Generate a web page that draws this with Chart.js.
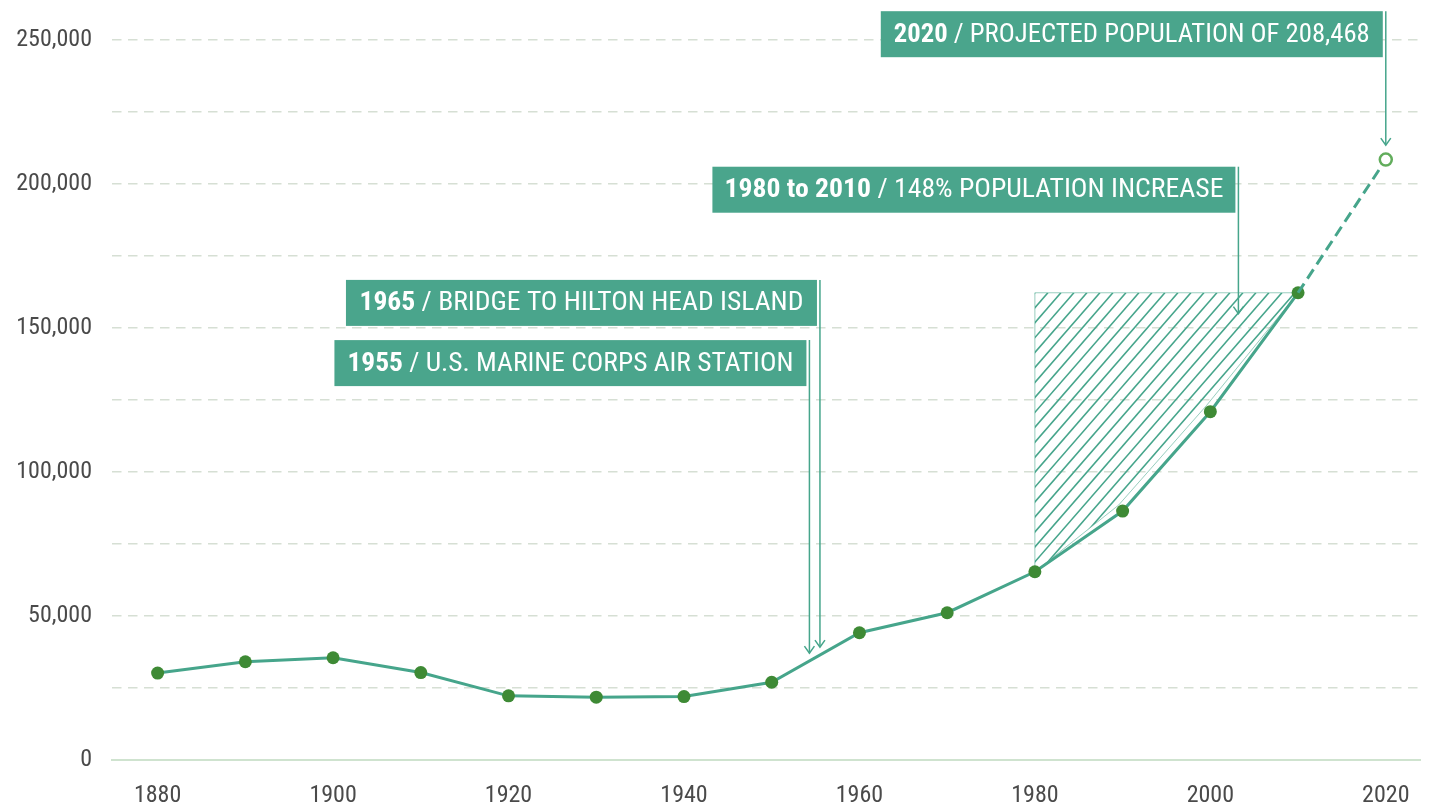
<!DOCTYPE html>
<html><head><meta charset="utf-8">
<script src="https://cdn.jsdelivr.net/npm/chart.js@4.4.1/dist/chart.umd.min.js"></script>
<style>html,body{margin:0;padding:0;background:#fff;overflow:hidden}#wrap{width:1433px;height:807px;position:relative}</style>
</head><body><div id="wrap"><canvas id="c" width="1433" height="807"></canvas></div>
<script>
// ---- data ----
const years = [1880,1890,1900,1910,1920,1930,1940,1950,1960,1970,1980,1990,2000,2010];
const population = [30176,34119,35495,30355,22269,21815,22037,26993,44187,51136,65364,86425,120937,162233];
const projectedYears = [2010,2020];
const projectedPopulation = [162233,208468];
const xTickValues = [1880,1900,1920,1940,1960,1980,2000,2020];
const yTickValues = [0,25000,50000,75000,100000,125000,150000,175000,200000,225000,250000];
const increaseRange = [1980,2010];
const noteBold = ['2020','1980 to 2010','1965','1955'];
const noteText = ['PROJECTED POPULATION OF 208,468','148% POPULATION INCREASE','BRIDGE TO HILTON HEAD ISLAND','U.S. MARINE CORPS AIR STATION'];

// ---- layout of the notes (leader x in years, top / tip in axis values) ----
const noteLayout = [
  {lead:2020,   top:260000, tip:213500, w:502, tw:476},
  {lead:2003.2, top:206000, tip:155000, w:523, tw:499},
  {lead:1955.5, top:166700, tip:39200,  w:471, tw:444},
  {lead:1954.3, top:145800, tip:37100,  w:472, tw:446}
];

const FONT = "'Roboto Condensed','DejaVu Sans Condensed',Roboto,sans-serif";
const TEAL = '#46a58b';
const BOX = '#4aa58c';

const notesPlugin = {
  id:'notes',
  beforeDatasetsDraw(chart){
    const ctx = chart.ctx, xs = chart.scales.x, ys = chart.scales.y;
    const i0 = years.indexOf(increaseRange[0]), i1 = years.indexOf(increaseRange[1]);
    const x0 = xs.getPixelForValue(years[i0]), y0 = ys.getPixelForValue(population[i0]);
    const x1 = xs.getPixelForValue(years[i1]), y1 = ys.getPixelForValue(population[i1]);
    ctx.save();
    ctx.beginPath();
    ctx.moveTo(x0,y0); ctx.lineTo(x0,y1); ctx.lineTo(x1,y1);
    for (let i=i1-1;i>i0;i--) ctx.lineTo(xs.getPixelForValue(years[i])-4, ys.getPixelForValue(population[i])-6);
    ctx.closePath();
    ctx.strokeStyle='rgba(70,165,139,0.55)'; ctx.lineWidth=1; ctx.stroke();
    ctx.clip();
    ctx.strokeStyle=TEAL; ctx.lineWidth=1.6;
    const h = y0-y1, dx = h/1.15;
    for (let k=-dx; k<(x1-x0)+dx; k+=13){
      ctx.beginPath(); ctx.moveTo(x0+k,y0); ctx.lineTo(x0+k+dx,y1); ctx.stroke();
    }
    ctx.restore();
  },
  afterDatasetsDraw(chart){
    const ctx = chart.ctx, xs = chart.scales.x, ys = chart.scales.y;
    ctx.save();
    noteLayout.forEach((n,i)=>{
      const lx = xs.getPixelForValue(n.lead);
      const top = ys.getPixelForValue(n.top);
      const tip = ys.getPixelForValue(n.tip);
      const right = lx-3, left = right-n.w, hgt = 46;
      ctx.fillStyle = BOX;
      ctx.fillRect(left, top, n.w, hgt);
      ctx.strokeStyle = TEAL; ctx.lineWidth = 1.5;
      ctx.beginPath(); ctx.moveTo(lx, top); ctx.lineTo(lx, tip); ctx.stroke();
      ctx.beginPath(); ctx.moveTo(lx-5, tip-7); ctx.lineTo(lx, tip); ctx.lineTo(lx+5, tip-7); ctx.stroke();
      const bf = "bold 26px "+FONT, rf = "26px "+FONT;
      ctx.font = bf; const bw = ctx.measureText(noteBold[i]).width;
      ctx.font = rf; const rest = ' / '+noteText[i]; const rw = ctx.measureText(rest).width;
      const sx = n.tw/(bw+rw);
      ctx.save();
      ctx.translate(left+(n.w-n.tw)/2, top+hgt/2+1);
      ctx.scale(sx,1);
      ctx.fillStyle='#fff'; ctx.textBaseline='middle'; ctx.textAlign='left';
      ctx.font = bf; ctx.fillText(noteBold[i],0,0);
      ctx.font = rf; ctx.fillText(rest,bw,0);
      ctx.restore();
    });
    ctx.restore();
  }
};

new Chart(document.getElementById('c'), {
  type:'line',
  data:{datasets:[
    {data: projectedYears.map((y,i)=>({x:y,y:projectedPopulation[i]})), borderColor:TEAL, borderWidth:3, borderDash:[11,6],
     pointRadius:[0,6], pointBackgroundColor:'#fff', pointBorderColor:'#62ad5c', pointBorderWidth:2.5, tension:0},
    {data: years.map((y,i)=>({x:y,y:population[i]})), borderColor:TEAL, borderWidth:3,
     pointRadius:6.5, pointBackgroundColor:'#3e8a35', pointBorderWidth:0, tension:0}
  ]},
  options:{
    responsive:false, animation:false, events:[],
    plugins:{legend:{display:false}, tooltip:{enabled:false}},
    layout:{padding:{top:40,right:13,left:0,bottom:0}},
    scales:{
      x:{type:'linear', min:1874.8, max:2023.9,
         afterBuildTicks:s=>{s.ticks = xTickValues.map(v=>({value:v}));},
         afterFit:s=>{s.height=47;},
         grid:{display:false},
         border:{display:true, color:'#cfe3cf', width:2},
         ticks:{color:'#4a4a4a', font:{family:FONT,size:24}, padding:14, maxRotation:0, callback:v=>String(v)}},
      y:{min:0, max:250000,
         afterBuildTicks:s=>{s.ticks = yTickValues.map(v=>({value:v}));},
         afterFit:s=>{s.width=112;},
         grid:{color:c=>c.tick && c.tick.value===0 ? 'rgba(0,0,0,0)' : '#d6dfd4', lineWidth:1.5, drawTicks:false},
         border:{display:false, dash:[9.5,6.5]},
         ticks:{color:'#4a4a4a', font:{family:FONT,size:24}, padding:20,
                callback:v=> v%50000===0 ? v.toLocaleString('en-US') : ''}}
    }
  },
  plugins:[notesPlugin]
});
</script>
</body></html>
